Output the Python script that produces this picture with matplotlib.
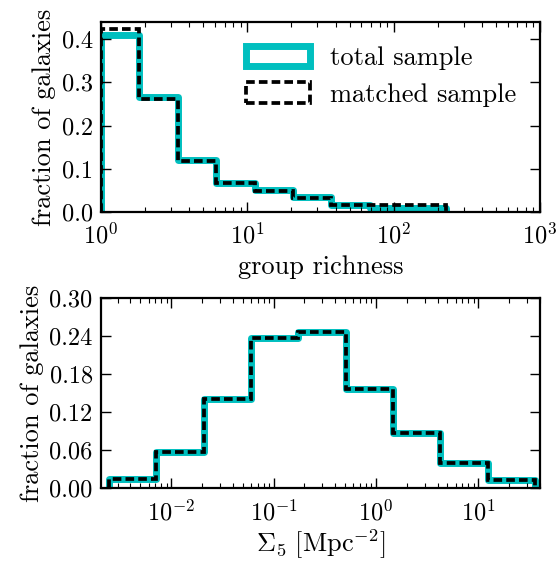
import numpy as np
import matplotlib
matplotlib.use("Agg")
import matplotlib.pyplot as plt
from matplotlib.ticker import FixedLocator, FormatStrFormatter
from matplotlib.patches import Patch

plt.rcParams['font.family'] = 'serif'
plt.rcParams['font.serif'] = ['cmr10']
plt.rcParams['mathtext.fontset'] = 'cm'
plt.rcParams['axes.formatter.use_mathtext'] = True
plt.rcParams['axes.unicode_minus'] = False

# --- data: group richness histogram ---
richness_edges = [1.0, 1.83, 3.35, 6.1, 11.2, 20.4, 37.4, 68.4, 125.0, 229.0]
richness_total = [0.410, 0.265, 0.119, 0.067, 0.050, 0.034, 0.016, 0.010, 0.009]
richness_matched = [0.424, 0.261, 0.117, 0.066, 0.049, 0.033, 0.015, 0.015, 0.015]

# --- data: Sigma_5 histogram ---
sigma_edges = [0.00245, 0.00711, 0.0207, 0.0600, 0.174, 0.506, 1.469, 4.27, 12.39, 36.0]
sigma_total = [0.0146, 0.0574, 0.140, 0.2365, 0.247, 0.157, 0.0866, 0.0407, 0.0135]
sigma_matched = [0.0146, 0.0574, 0.140, 0.2365, 0.247, 0.157, 0.0866, 0.0407, 0.0135]

labels = ['total sample', 'matched sample']
cyan = (0.0, 0.75, 0.75)
dash = (0, (2.3, 1.1))

fig = plt.figure(figsize=(5.58, 5.62), dpi=100)
ax1 = fig.add_axes([0.181, 0.623, 0.787, 0.338])
ax2 = fig.add_axes([0.181, 0.131, 0.787, 0.339])

def style(ax):
    for s in ax.spines.values():
        s.set_linewidth(1.6)
    ax.tick_params(which='both', direction='in', top=True, right=True, labelsize=17.5)
    ax.tick_params(which='major', length=7, width=1.0, pad=6)
    ax.tick_params(which='minor', length=3.5, width=0.8)
    ax.tick_params(axis='x', which='major', pad=8)

ax1.stairs(richness_total, richness_edges, baseline=0, color=cyan, lw=5, joinstyle='round')
ax1.stairs(richness_matched, richness_edges, baseline=0, color='k', lw=2.7, linestyle=dash)
ax1.set_xscale('log')
ax1.set_xlim(1, 1000)
ax1.set_ylim(0, 0.44)
ax1.yaxis.set_major_locator(FixedLocator([0.0, 0.1, 0.2, 0.3, 0.4]))
ax1.yaxis.set_major_formatter(FormatStrFormatter('%.1f'))
ax1.set_xlabel('group richness', fontsize=19, labelpad=5)
ax1.set_ylabel('fraction of galaxies', fontsize=19)
style(ax1)
handles = [Patch(facecolor='none', edgecolor=cyan, lw=5, joinstyle='round'),
           Patch(facecolor='none', edgecolor='k', lw=2.7, linestyle=dash)]
ax1.legend(handles, labels, loc='upper right', frameon=False, fontsize=19,
           handlelength=2.42, handleheight=0.83, handletextpad=0.77,
           borderaxespad=0.5, labelspacing=0.45)

ax2.stairs(sigma_total, sigma_edges, baseline=0, color=cyan, lw=5, joinstyle='round')
ax2.stairs(sigma_matched, sigma_edges, baseline=0, color='k', lw=2.7, linestyle=dash)
ax2.set_xscale('log')
ax2.set_xlim(0.00206, 40.2)
ax2.set_ylim(0, 0.30)
ax2.yaxis.set_major_locator(FixedLocator([0.0, 0.06, 0.12, 0.18, 0.24, 0.30]))
ax2.yaxis.set_major_formatter(FormatStrFormatter('%.2f'))
ax2.set_xlabel(r'$\Sigma_5\ [\mathrm{Mpc}^{-2}]$', fontsize=19, labelpad=2)
ax2.set_ylabel('fraction of galaxies', fontsize=19)
style(ax2)

fig.savefig('out.png', dpi=100)
